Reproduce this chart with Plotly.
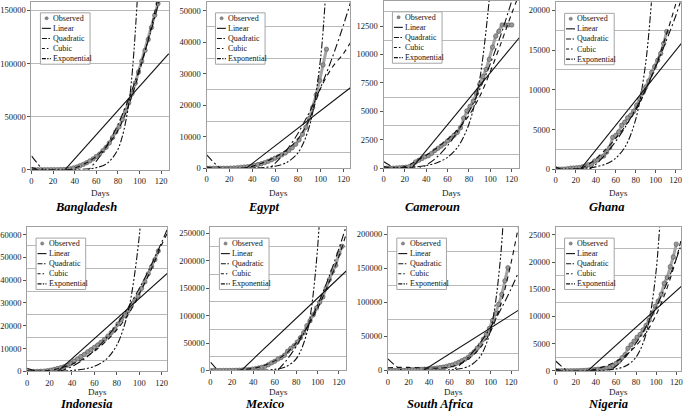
import plotly.graph_objects as go

W, H = 685, 415
FONT = "Liberation Serif, Times New Roman, serif"

COUNTRIES = ["Bangladesh", "Egypt", "Cameroun", "Ghana",
             "Indonesia", "Mexico", "South Africa", "Nigeria"]
FIT_DAYS = [0, 10, 20, 30, 40, 50, 60, 70, 80, 90, 100, 110, 120, 127]
LINEAR_DAYS = [0, 127]
X_TICKS = [0, 20, 40, 60, 80, 100, 120]
Y_TICK_STEP = [50000, 10000, 2500, 5000, 10000, 50000, 50000, 5000]
OBS_STEP = 3

# ---------------- Bangladesh ----------------
BANGLADESH_OBSERVED = [3, 5, 10, 14, 24, 33, 44, 49, 54, 70, 164, 424, 803, 1572, 2456, 3772,
                       4998, 6462, 8238, 10143, 12425, 14657, 17822, 20995, 25121, 30205,
                       35585, 40321, 47153, 55140, 63026, 71675, 81523, 92000, 102292,
                       112306, 122660, 133978, 145483, 156391]
BANGLADESH_LINEAR = [-35400, 109400]
BANGLADESH_QUADRATIC = [13000, 780, -6840, -9930, -8480, -2490, 8050, 23120, 42700, 66900,
                        95600, 128800, 166600, 195700]
BANGLADESH_CUBIC = [2000, -1000, -2500, -1500, 1500, 6000, 12500, 22500, 37000, 61000,
                    93000, 131000, 176000, 210000]
BANGLADESH_EXPONENTIAL = [2, 5, 17, 55, 180, 580, 1860, 6000, 19300, 62000, 200000]

# ---------------- Egypt ----------------
EGYPT_OBSERVED = [1, 1, 1, 2, 3, 3, 15, 50, 110, 200, 290, 400, 480, 600, 860, 1170, 1450,
                  1800, 2200, 2700, 3200, 3700, 4250, 4850, 5600, 6500, 7600, 9000, 10800,
                  13000, 15800, 19300, 23300, 27800, 32800, 37800]
EGYPT_LINEAR = [-9700, 25860]
EGYPT_QUADRATIC = [4300, 590, -1820, -2920, -2730, -1230, 1560, 5660, 11060, 17750, 25740,
                   35030, 45600, 53800]
EGYPT_CUBIC = [500, -400, -600, -200, 600, 1800, 3500, 5800, 9300, 15500, 25500, 32000,
               36500, 40500]
EGYPT_EXPONENTIAL = [1.7, 4.5, 12, 33, 90, 245, 660, 1790, 4850, 13200, 35400, 96000]

# ---------------- Cameroun ----------------
CAMEROUN_OBSERVED = [1, 2, 5, 10, 27, 40, 75, 91, 139, 193, 555, 700, 850, 1000, 1100, 1300,
                     1550, 1750, 1950, 2150, 2400, 2650, 2900, 3150, 3550, 4400, 5044, 5436,
                     5904, 6585, 7392, 8060, 8681, 9572, 10638, 11610, 12041, 12592, 12592,
                     12592, 12592]
CAMEROUN_LINEAR = [-3000, 11470]
CAMEROUN_QUADRATIC = [600, 50, -190, -115, 275, 975, 1990, 3320, 4960, 6920, 9190, 11770,
                      14700, 16880]
CAMEROUN_CUBIC = [150, 0, 150, 600, 1150, 1800, 2550, 3450, 4650, 6300, 8500, 11000, 13600,
                  15300]
CAMEROUN_EXPONENTIAL = [15, 29, 59, 118, 240, 480, 960, 1930, 3890, 7800, 15800]

# ---------------- Ghana ----------------
GHANA_OBSERVED = [2, 6, 16, 24, 68, 141, 152, 195, 214, 313, 408, 566, 636, 1042, 1154, 1550,
                  1671, 2169, 2719, 4012, 4263, 4700, 5530, 5918, 6486, 6808, 7303, 8070,
                  8885, 9638, 10358, 11118, 12193, 12929, 13717, 14568, 15834, 17351]
GHANA_LINEAR = [-3890, 16050]
GHANA_QUADRATIC = [-500, -900, -800, -300, 600, 1900, 3500, 5400, 7600, 10100, 12900, 16000,
                   19300, 22000]
GHANA_CUBIC = [300, -200, -100, 400, 1300, 2500, 3900, 5500, 7400, 9900, 13000, 16700, 20800,
               24200]
GHANA_EXPONENTIAL = [15, 31, 67, 142, 300, 645, 1380, 2940, 6270, 13370, 28400]

# ---------------- Indonesia ----------------
INDONESIA_OBSERVED = [2, 2, 6, 34, 96, 172, 369, 579, 893, 1285, 1677, 2092, 2738, 3512, 4557,
                      5516, 6575, 7418, 8607, 9511, 10551, 11587, 12776, 14032, 15438, 17025,
                      18496, 20796, 22750, 24538, 26473, 28818, 31186, 33076, 36406, 39294,
                      42762, 45891, 49009, 52812]
INDONESIA_LINEAR = [-12000, 43900]
INDONESIA_QUADRATIC = [1400, -50, -400, 350, 2200, 5150, 9200, 14350, 20600, 27950, 36400,
                       45950, 56600, 64710]
INDONESIA_CUBIC = [300, 100, 500, 1500, 3200, 5600, 8900, 13100, 18300, 24800, 34000, 44000,
                   55500, 62500]
INDONESIA_EXPONENTIAL = [16, 37, 84, 190, 435, 990, 2240, 5080, 11500, 26100, 59300, 134600]

# ---------------- Mexico ----------------
MEXICO_OBSERVED = [2, 5, 5, 7, 8, 26, 82, 203, 367, 585, 993, 1378, 1890, 2439, 3441, 4661,
                   5847, 7497, 10544, 13842, 16752, 20739, 23471, 27634, 35022, 40186, 45032,
                   51633, 59567, 68620, 81400, 90664, 101238, 113619, 124301, 133974, 150264,
                   165455, 180545, 191410, 212802, 226089]
MEXICO_LINEAR = [-53000, 181600]
MEXICO_QUADRATIC = [15000, -5360, -18880, -25560, -25400, -18400, -4560, 16120, 43640, 78000,
                    119200, 167240, 222120, 264600]
MEXICO_CUBIC = [1000, -1500, -1000, 1500, 4000, 9000, 17500, 30000, 50000, 78000, 113000,
                157000, 208000, 250000]
MEXICO_EXPONENTIAL = [1.7, 5.4, 17.5, 57, 190, 610, 1980, 6450, 21000, 68400, 222700, 725000]

# ---------------- South Africa ----------------
SOUTH_AFRICA_OBSERVED = [1, 3, 13, 38, 85, 202, 402, 927, 1280, 1380, 1585, 1749, 1934, 2173,
                         2605, 3158, 3635, 4361, 4996, 5951, 7220, 8232, 10015, 12074, 14355,
                         16433, 19137, 23615, 27403, 32683, 37525, 45973, 52991, 61927, 73533,
                         83890, 97302, 111796, 131800, 151209]
SOUTH_AFRICA_LINEAR = [-33000, 88400]
SOUTH_AFRICA_QUADRATIC = [17000, 3840, -5380, -10640, -11940, -9290, -2690, 7870, 22380,
                          40850, 63260, 89640, 119960, 143550]
SOUTH_AFRICA_CUBIC = [4000, 4500, 4500, 4000, 3500, 3500, 5000, 9500, 18500, 33500, 57000,
                      97000, 158000, 210000]
SOUTH_AFRICA_EXPONENTIAL = [1.5, 4, 12, 36, 100, 300, 855, 2470, 7000, 20500, 59100, 170000,
                            490000]

# ---------------- Nigeria ----------------
NIGERIA_OBSERVED = [1, 1, 1, 1, 2, 2, 2, 8, 30, 51, 81, 139, 210, 238, 288, 323, 407, 493, 665,
                    981, 1337, 1728, 2388, 2950, 4151, 4787, 5445, 6175, 6677, 7526, 8344, 9302,
                    10578, 11844, 12801, 14065, 16085, 17148, 19147, 20919, 23298]
NIGERIA_LINEAR = [-5330, 15870]
NIGERIA_QUADRATIC = [1800, 197, -828, -1278, -1150, -448, 831, 2686, 5117, 8123, 11706, 15864,
                     20600, 24260]
NIGERIA_CUBIC = [300, -200, -300, -100, 300, 900, 1700, 2900, 4600, 7000, 10300, 14800, 20600,
                 25800]
NIGERIA_EXPONENTIAL = [0.9, 2.3, 6, 17, 46, 124, 338, 920, 2500, 6790, 18460, 50200]

SERIES = [
    (BANGLADESH_OBSERVED, BANGLADESH_LINEAR, BANGLADESH_QUADRATIC, BANGLADESH_CUBIC, BANGLADESH_EXPONENTIAL),
    (EGYPT_OBSERVED, EGYPT_LINEAR, EGYPT_QUADRATIC, EGYPT_CUBIC, EGYPT_EXPONENTIAL),
    (CAMEROUN_OBSERVED, CAMEROUN_LINEAR, CAMEROUN_QUADRATIC, CAMEROUN_CUBIC, CAMEROUN_EXPONENTIAL),
    (GHANA_OBSERVED, GHANA_LINEAR, GHANA_QUADRATIC, GHANA_CUBIC, GHANA_EXPONENTIAL),
    (INDONESIA_OBSERVED, INDONESIA_LINEAR, INDONESIA_QUADRATIC, INDONESIA_CUBIC, INDONESIA_EXPONENTIAL),
    (MEXICO_OBSERVED, MEXICO_LINEAR, MEXICO_QUADRATIC, MEXICO_CUBIC, MEXICO_EXPONENTIAL),
    (SOUTH_AFRICA_OBSERVED, SOUTH_AFRICA_LINEAR, SOUTH_AFRICA_QUADRATIC, SOUTH_AFRICA_CUBIC, SOUTH_AFRICA_EXPONENTIAL),
    (NIGERIA_OBSERVED, NIGERIA_LINEAR, NIGERIA_QUADRATIC, NIGERIA_CUBIC, NIGERIA_EXPONENTIAL),
]

# ---------------- layout geometry (pixels) ----------------
# left, right, top, bottom, x max, y max, grid offset (fraction of tick step), title centre x
GEOM = [
    (28.7, 167.0, 2.0, 171.7, 127, 158000, 0.0, 84),
    (205.0, 350.0, 2.0, 170.3, 126, 52800, 0.5, 262),
    (383.3, 520.0, 1.0, 170.3, 127, 14700, 0.5, 433),
    (556.7, 683.0, 2.5, 171.3, 125.3, 21000, 0.5, 608),
    (24.3, 165.5, 230.0, 376.0, 125, 63200, 0.5, 84),
    (209.0, 346.0, 230.0, 375.0, 127, 260800, 0.5, 263),
    (387.7, 519.0, 230.0, 375.0, 127, 210700, 0.5, 440),
    (556.7, 683.0, 230.0, 375.3, 124.7, 26400, 0.5, 609),
]
TITLE_Y = [210, 210, 210, 210, 408.5, 408.5, 408.5, 408.5]
DAYS_Y = [195.5, 195.5, 195.5, 195.5, 396.5, 396.5, 396.5, 396.5]

GRID_COLOR = "#b9b9b9"
FRAME_COLOR = "#a0a0a0"
INK = "#111111"
DASH = {
    "Linear": "solid",
    "Quadratic": "8px,3px,2px,3px",
    "Cubic": "5px,4px",
    "Exponential": "7px,2px,2px,2px,2px,2px",
}
SAMPLE_DASH = {
    "Linear": "solid",
    "Quadratic": "5px,1.5px,1.5px,4px",
    "Cubic": "3px,2px,1.5px,4px",
    "Exponential": "4px,1.3px,1.3px,1.3px,1.3px,4px",
}
FIT_NAMES = ["Linear", "Quadratic", "Cubic", "Exponential"]

fig = go.Figure()
shapes = []
annotations = []
layout = {}

for i, (name, series, g) in enumerate(zip(COUNTRIES, SERIES, GEOM)):
    k = i + 1
    xs = "x" if k == 1 else f"x{k}"
    ys = "y" if k == 1 else f"y{k}"
    xa = "xaxis" if k == 1 else f"xaxis{k}"
    yax = "yaxis" if k == 1 else f"yaxis{k}"
    left, right, top, bottom, xmax, ymax, goff, tcx = g
    pw, ph = right - left, bottom - top
    observed, linear, quad, cubic, expo = series
    obs_days = [d * OBS_STEP for d in range(len(observed))]

    # observed band + markers
    fig.add_trace(go.Scatter(x=obs_days, y=observed, mode="lines", xaxis=xs, yaxis=ys,
                             line=dict(color="#a4a4a4", width=3.0), showlegend=False,
                             hoverinfo="skip"))
    fig.add_trace(go.Scatter(x=obs_days, y=observed, mode="markers", xaxis=xs, yaxis=ys,
                             name="Observed", showlegend=False,
                             marker=dict(symbol="circle", size=4.4, color="#979797",
                                         line=dict(color="#555555", width=0.6))))
    fits = [(LINEAR_DAYS, linear), (FIT_DAYS, quad), (FIT_DAYS, cubic),
            (FIT_DAYS[:len(expo)], expo)]
    for fname, (dx, dy) in zip(FIT_NAMES, fits):
        fig.add_trace(go.Scatter(x=dx, y=dy, mode="lines", xaxis=xs, yaxis=ys, name=fname,
                                 showlegend=False,
                                 line=dict(color=INK, width=1.1, dash=DASH[fname],
                                           shape="linear" if fname == "Linear" else "spline",
                                           smoothing=0.9 if fname != "Linear" else None)))

    step = Y_TICK_STEP[i]
    ygrid = dict(showgrid=True, gridcolor=GRID_COLOR, gridwidth=1.2) if goff == 0 else dict(
        showgrid=False,
        minor=dict(tick0=step * goff, dtick=step, showgrid=True, gridcolor=GRID_COLOR,
                   gridwidth=1.2, ticks=""))
    layout[xa] = dict(domain=[left / W, right / W], anchor=ys, range=[0, xmax],
                      tickmode="array", tickvals=X_TICKS, ticks="outside", ticklen=3,
                      tickcolor="#555", showgrid=False, zeroline=False,
                      showline=True, linecolor=FRAME_COLOR, linewidth=1, mirror=True,
                      tickfont=dict(family=FONT, size=8.5, color="#222"))
    layout[yax] = dict(domain=[1 - bottom / H, 1 - top / H], anchor=xs, range=[0, ymax],
                       tickmode="linear", tick0=0, dtick=step, tickformat="d",
                       ticks="outside", ticklen=3, tickcolor="#555", zeroline=False,
                       showline=True, linecolor=FRAME_COLOR, linewidth=1, mirror=True,
                       tickfont=dict(family=FONT, size=8.5, color="#222"), **ygrid)

    # in-plot legend box
    xr, yr = f"{xs} domain", f"{ys} domain"
    bl, bt, bw, bh, row = 9.0, 11.0, 50.0, 52.0, 10.2
    fx = lambda p: p / pw
    fy = lambda p: 1 - p / ph
    shapes.append(dict(type="rect", xref=xr, yref=yr, x0=fx(bl), x1=fx(bl + bw),
                       y0=fy(bt + bh), y1=fy(bt), fillcolor="white",
                       line=dict(color="#a5a5a5", width=1), layer="above"))
    labels = ["Observed"] + FIT_NAMES
    for r, lab in enumerate(labels):
        cy = bt + 5.5 + r * row
        if lab == "Observed":
            shapes.append(dict(type="circle", xref=xr, yref=yr,
                               x0=fx(bl + 4.6), x1=fx(bl + 7.8), y0=fy(cy + 1.6), y1=fy(cy - 1.6),
                               fillcolor="#8a8a8a", line=dict(color="#5a5a5a", width=0.5),
                               layer="above"))
        else:
            shapes.append(dict(type="line", xref=xr, yref=yr, x0=fx(bl + 1.5), x1=fx(bl + 10.5),
                               y0=fy(cy), y1=fy(cy),
                               line=dict(color=INK, width=1.1, dash=SAMPLE_DASH[lab]),
                               layer="above"))
        annotations.append(dict(text=lab, xref=xr, yref=yr, x=fx(bl + 11), y=fy(cy),
                                xanchor="left", yanchor="middle", showarrow=False,
                                font=dict(family=FONT, size=8, color="#111")))

    # axis title and panel title
    annotations.append(dict(text="Days", xref="paper", yref="paper",
                            x=(left + right) / 2 / W, y=1 - DAYS_Y[i] / H,
                            xanchor="center", yanchor="middle", showarrow=False,
                            font=dict(family=FONT, size=9, color="#222")))
    annotations.append(dict(text=f"<b><i>{name}</i></b>", xref="paper", yref="paper",
                            x=tcx / W, y=1 - TITLE_Y[i] / H, xanchor="center", yanchor="middle",
                            showarrow=False, font=dict(family=FONT, size=12.5, color="#000")))

fig.update_layout(width=W, height=H, margin=dict(l=0, r=0, t=0, b=0),
                  paper_bgcolor="white", plot_bgcolor="white", showlegend=False,
                  shapes=shapes, annotations=annotations, **layout)

fig.write_html("out.html", config={"displayModeBar": False},
               post_script="document.body.style.margin='0';document.body.style.overflow='hidden';")
